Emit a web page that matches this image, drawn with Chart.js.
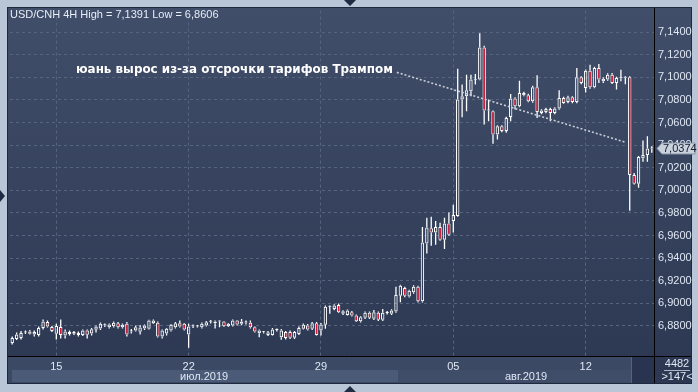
<!DOCTYPE html>
<html>
<head>
<meta charset="utf-8">
<script src="https://cdn.jsdelivr.net/npm/chart.js@4/dist/chart.umd.min.js"></script>
<style>
html, body { margin: 0; padding: 0; background: #b9c6d7; overflow: hidden; }
canvas { display: block; }
</style>
</head>
<body>
<canvas id="myChart" width="698" height="392"></canvas>
<script>
// USD/CNH 4H candles, 11.07.2019 08:00 .. 14.08.2019 12:00
const openV = [
  6.8649, 6.8684, 6.8693, 6.8740, 6.8750, 6.8723, 6.8719, 6.8781, 6.8834, 6.8790,
  6.8730, 6.8790, 6.8715, 6.8728, 6.8745, 6.8736, 6.8719, 6.8759, 6.8732, 6.8765,
  6.8776, 6.8810, 6.8788, 6.8797, 6.8823, 6.8788, 6.8818, 6.8750, 6.8759, 6.8747,
  6.8776, 6.8774, 6.8823, 6.8827, 6.8706, 6.8732, 6.8759, 6.8788, 6.8823, 6.8818,
  6.8723, 6.8794, 6.8797, 6.8788, 6.8803, 6.8836, 6.8823, 6.8838, 6.8838, 6.8797,
  6.8803, 6.8847, 6.8818, 6.8831, 6.8827, 6.8788, 6.8735, 6.8743, 6.8720, 6.8720,
  6.8765, 6.8700, 6.8745, 6.8745, 6.8695, 6.8728, 6.8774, 6.8803, 6.8774, 6.8823,
  6.8759, 6.8809, 6.8970, 6.8950, 6.8985, 6.8906, 6.8897, 6.8920, 6.8891, 6.8841,
  6.8871, 6.8915, 6.8862, 6.8915, 6.8853, 6.8913, 6.8906, 6.8926, 6.9067, 6.9135,
  6.9059, 6.9097, 6.9147, 6.9017, 6.9529, 6.9665, 6.9626, 6.9676, 6.9562, 6.9705,
  6.9729, 6.9773, 7.0803, 7.0833, 7.0877, 7.0978, 7.0980, 7.1265, 7.0706, 7.0700,
  7.0494, 7.0568, 7.0524, 7.0650, 7.0812, 7.0744, 7.0841, 7.0841, 7.0788, 7.0912,
  7.0685, 7.0694, 7.0720, 7.0685, 7.0724, 7.0818, 7.0782, 7.0824, 7.0782, 7.1000,
  7.0906, 7.1059, 7.0912, 7.1082, 7.0965, 7.0980, 7.1024, 7.0950, 7.0991, 7.0997,
  7.1000, 7.0135, 7.0058, 7.0283, 7.0312, 7.0370
];
const highV = [
  6.8706, 6.8741, 6.8754, 6.8759, 6.8763, 6.8759, 6.8794, 6.8856, 6.8847, 6.8798,
  6.8818, 6.8856, 6.8767, 6.8759, 6.8754, 6.8750, 6.8767, 6.8767, 6.8781, 6.8803,
  6.8829, 6.8821, 6.8821, 6.8838, 6.8834, 6.8821, 6.8834, 6.8772, 6.8803, 6.8807,
  6.8812, 6.8853, 6.8856, 6.8838, 6.8767, 6.8781, 6.8816, 6.8834, 6.8847, 6.8825,
  6.8818, 6.8812, 6.8807, 6.8829, 6.8843, 6.8851, 6.8847, 6.8847, 6.8843, 6.8825,
  6.8856, 6.8851, 6.8860, 6.8847, 6.8847, 6.8794, 6.8767, 6.8754, 6.8754, 6.8781,
  6.8776, 6.8772, 6.8754, 6.8759, 6.8754, 6.8794, 6.8821, 6.8816, 6.8834, 6.8834,
  6.8825, 6.8979, 6.8979, 6.8992, 6.8997, 6.8939, 6.8944, 6.8931, 6.8900, 6.8886,
  6.8926, 6.8926, 6.8941, 6.8926, 6.8950, 6.8931, 6.8948, 6.9147, 6.9164, 6.9147,
  6.9120, 6.9160, 6.9156, 6.9676, 6.9758, 6.9765, 6.9729, 6.9712, 6.9758, 6.9803,
  6.9871, 7.1077, 7.0936, 7.1024, 7.1024, 7.1029, 7.1391, 7.1280, 7.0803, 7.0706,
  7.0577, 7.0577, 7.0652, 7.0853, 7.0824, 7.0971, 7.0872, 7.0855, 7.0925, 7.1018,
  7.0718, 7.0731, 7.0731, 7.0735, 7.0886, 7.0828, 7.0837, 7.0833, 7.1082, 7.1009,
  7.1070, 7.1112, 7.1093, 7.1118, 7.1000, 7.1036, 7.1038, 7.1005, 7.1068, 7.1009,
  7.1009, 7.0153, 7.0303, 7.0442, 7.0479, 7.0391
];
const lowV = [
  6.8635, 6.8675, 6.8679, 6.8728, 6.8723, 6.8706, 6.8706, 6.8767, 6.8785, 6.8745,
  6.8679, 6.8688, 6.8688, 6.8715, 6.8719, 6.8706, 6.8710, 6.8688, 6.8715, 6.8741,
  6.8763, 6.8790, 6.8776, 6.8785, 6.8776, 6.8776, 6.8706, 6.8732, 6.8750, 6.8723,
  6.8763, 6.8767, 6.8816, 6.8697, 6.8688, 6.8715, 6.8750, 6.8776, 6.8785, 6.8759,
  6.8606, 6.8781, 6.8785, 6.8776, 6.8794, 6.8821, 6.8776, 6.8788, 6.8790, 6.8790,
  6.8794, 6.8803, 6.8806, 6.8812, 6.8776, 6.8741, 6.8700, 6.8732, 6.8710, 6.8715,
  6.8750, 6.8677, 6.8679, 6.8684, 6.8684, 6.8719, 6.8767, 6.8759, 6.8763, 6.8715,
  6.8715, 6.8774, 6.8908, 6.8939, 6.8913, 6.8895, 6.8891, 6.8882, 6.8833, 6.8829,
  6.8860, 6.8860, 6.8851, 6.8842, 6.8842, 6.8900, 6.8895, 6.8917, 6.9008, 6.9054,
  6.9050, 6.9085, 6.9006, 6.9006, 6.9441, 6.9509, 6.9517, 6.9553, 6.9480, 6.9597,
  6.9626, 6.9765, 7.0647, 7.0700, 7.0833, 7.0936, 7.0974, 7.0583, 7.0612, 7.0412,
  7.0450, 7.0515, 7.0510, 7.0612, 7.0715, 7.0735, 7.0833, 7.0780, 7.0775, 7.0641,
  7.0674, 7.0682, 7.0612, 7.0674, 7.0713, 7.0766, 7.0771, 7.0771, 7.0771, 7.0938,
  7.0865, 7.0900, 7.0903, 7.0950, 7.0950, 7.0969, 7.0941, 7.0892, 7.0965, 7.0938,
  6.9818, 7.0051, 7.0023, 7.0253, 7.0253, 7.0332
];
const closeV = [
  6.8693, 6.8723, 6.8737, 6.8742, 6.8730, 6.8745, 6.8781, 6.8838, 6.8794, 6.8754,
  6.8798, 6.8719, 6.8750, 6.8745, 6.8730, 6.8719, 6.8759, 6.8721, 6.8770, 6.8794,
  6.8818, 6.8806, 6.8812, 6.8827, 6.8788, 6.8809, 6.8723, 6.8755, 6.8788, 6.8785,
  6.8803, 6.8847, 6.8847, 6.8706, 6.8759, 6.8774, 6.8809, 6.8823, 6.8794, 6.8767,
  6.8794, 6.8797, 6.8795, 6.8818, 6.8832, 6.8840, 6.8838, 6.8840, 6.8797, 6.8818,
  6.8847, 6.8812, 6.8838, 6.8829, 6.8788, 6.8750, 6.8759, 6.8745, 6.8743, 6.8767,
  6.8763, 6.8759, 6.8692, 6.8695, 6.8745, 6.8781, 6.8809, 6.8767, 6.8823, 6.8720,
  6.8812, 6.8970, 6.8968, 6.8979, 6.8920, 6.8929, 6.8935, 6.8891, 6.8841, 6.8876,
  6.8915, 6.8871, 6.8920, 6.8853, 6.8915, 6.8915, 6.8935, 6.9074, 6.9156, 6.9067,
  6.9111, 6.9147, 6.9017, 6.9538, 6.9670, 6.9626, 6.9676, 6.9562, 6.9705, 6.9606,
  6.9782, 7.0803, 7.0833, 7.0886, 7.0980, 7.0982, 7.1265, 7.0706, 7.0708, 7.0494,
  7.0568, 7.0524, 7.0641, 7.0812, 7.0744, 7.0862, 7.0862, 7.0788, 7.0912, 7.0694,
  7.0706, 7.0720, 7.0685, 7.0724, 7.0818, 7.0773, 7.0824, 7.0782, 7.1000, 7.0950,
  7.1059, 7.0912, 7.1082, 7.0980, 7.0988, 7.1024, 7.0950, 7.0994, 7.0994, 7.1000,
  7.0135, 7.0058, 7.0294, 7.0312, 7.0371, 7.0374
];

const yTicks = [6.88, 6.90, 6.92, 6.94, 6.96, 6.98, 7.00, 7.02, 7.04, 7.06, 7.08, 7.10, 7.12, 7.14];
const dayLabels = ['15', '22', '29', '05', '12'];
const dayIndex = [10, 40, 70, 100, 130];
const months = ['июл.2019', 'авг.2019'];
const monthStart = [0, 88];
const noteText = 'юань вырос из-за отсрочки тарифов Трампом';
const trendX = [87.2, 138.9];
const trendY = [7.1044, 7.0427];

const NARROW = '"Liberation Sans Narrow", "Arial Narrow", "Liberation Sans", Arial, sans-serif';
const TXT = '#dfe7f4';

const labels = openV.map((_, i) => i);
const bodies = openV.map((o, i) => [o, closeV[i]]);
const wickUp = openV.map((o, i) => [Math.max(o, closeV[i]), highV[i]]);
const wickDn = openV.map((o, i) => [lowV[i], Math.min(o, closeV[i])]);
const bodyFill = openV.map((o, i) => closeV[i] >= o ? 'rgba(0,0,0,0)' : '#dc1533');
const fmt = v => v.toFixed(4).replace('.', ',');

const frame = {
  id: 'frame',
  beforeDraw(chart) {
    const {ctx, chartArea: a, scales: {x}} = chart;
    ctx.save();
    ctx.fillStyle = '#b9c6d7';
    ctx.fillRect(0, 0, 698, 392);
    const g = ctx.createLinearGradient(0, 8, 0, 383);
    g.addColorStop(0, '#414e69');
    g.addColorStop(1, '#2c3852');
    ctx.fillStyle = g;
    ctx.fillRect(8, 8, 683, 375);
    ctx.strokeStyle = '#1f293d';
    ctx.lineWidth = 1;
    ctx.strokeRect(7.5, 7.5, 684, 376);

    // bottom date panel
    const xb = x.getPixelForValue(monthStart[1] - 0.5);
    ctx.fillStyle = '#3b4964';
    ctx.fillRect(8, a.bottom + 1, a.right - 8, 26);
    ctx.fillStyle = '#4b5a76';
    ctx.fillRect(12, a.bottom + 14, xb - 12, 12);
    ctx.fillStyle = '#3f4d68';
    ctx.fillRect(xb, a.bottom + 14, a.right - xb, 12);
    ctx.fillStyle = '#283450';
    ctx.fillRect(632, a.bottom + 1, a.right - 632, 26);
    ctx.strokeStyle = '#56637c';
    ctx.beginPath();
    ctx.moveTo(631.5, a.bottom + 1);
    ctx.lineTo(631.5, 383);
    ctx.stroke();
    ctx.restore();
  },
  afterDatasetsDraw(chart) {
    const {ctx, scales: {x, y}} = chart;
    ctx.save();
    ctx.strokeStyle = '#c9ced8';
    ctx.lineWidth = 1.6;
    ctx.setLineDash([2, 2]);
    ctx.beginPath();
    ctx.moveTo(x.getPixelForValue(trendX[0]), y.getPixelForValue(trendY[0]));
    ctx.lineTo(x.getPixelForValue(trendX[1]), y.getPixelForValue(trendY[1]));
    ctx.stroke();
    ctx.restore();
  },
  afterDraw(chart) {
    const {ctx, chartArea: a, scales: {x, y}} = chart;
    ctx.save();
    // axis separators
    ctx.strokeStyle = '#000000';
    ctx.lineWidth = 1;
    ctx.beginPath();
    ctx.moveTo(a.right + 0.5, 8);
    ctx.lineTo(a.right + 0.5, 383);
    ctx.moveTo(8, a.bottom + 0.5);
    ctx.lineTo(691, a.bottom + 0.5);
    ctx.stroke();

    // title
    ctx.fillStyle = '#e6edf7';
    ctx.font = '11px ' + NARROW;
    ctx.textBaseline = 'alphabetic';
    ctx.textAlign = 'left';
    ctx.fillText('USD/CNH 4H High = ' + fmt(Math.max(...highV)) + ' Low = ' + fmt(Math.min(...lowV)), 10, 18);

    // note
    ctx.fillStyle = '#ffffff';
    ctx.font = 'bold 12px "DejaVu Sans", sans-serif';
    const w = ctx.measureText(noteText).width;
    ctx.save();
    ctx.translate(76, 73);
    ctx.scale(317 / w, 1);
    ctx.fillText(noteText, 0, 0);
    ctx.restore();

    // month labels
    ctx.fillStyle = TXT;
    ctx.font = '11px ' + NARROW;
    ctx.textAlign = 'center';
    ctx.textBaseline = 'middle';
    const xb = x.getPixelForValue(monthStart[1] - 0.5);
    ctx.fillText(months[0], (a.left + xb) / 2, 377);
    ctx.fillText(months[1], (xb + a.right) / 2, 377);

    // counter box
    ctx.fillText('4482', 677, 364);
    ctx.fillText('>147<', 677, 377);
    ctx.strokeStyle = '#aab6c8';
    ctx.beginPath();
    ctx.moveTo(664, 370.5);
    ctx.lineTo(690, 370.5);
    ctx.stroke();

    // last price tag
    const last = closeV[closeV.length - 1];
    const py = Math.round(y.getPixelForValue(last)) + 0.5;
    ctx.beginPath();
    ctx.moveTo(657, py);
    ctx.lineTo(662, py - 5.5);
    ctx.lineTo(695, py - 5.5);
    ctx.lineTo(695, py + 5.5);
    ctx.lineTo(662, py + 5.5);
    ctx.closePath();
    ctx.fillStyle = '#c9d1dc';
    ctx.fill();
    ctx.strokeStyle = '#8793a6';
    ctx.stroke();
    ctx.fillStyle = '#141c30';
    ctx.textAlign = 'left';
    ctx.fillText(fmt(last), 663, py);

    // frame arrows
    ctx.fillStyle = '#1f2b42';
    ctx.beginPath();
    ctx.moveTo(344, 0); ctx.lineTo(356, 0); ctx.lineTo(350, 6); ctx.closePath();
    ctx.moveTo(344, 392); ctx.lineTo(356, 392); ctx.lineTo(350, 386); ctx.closePath();
    ctx.moveTo(0, 190); ctx.lineTo(0, 202); ctx.lineTo(5, 196); ctx.closePath();
    ctx.fill();
    ctx.restore();
  }
};

new Chart('myChart', {
  type: 'bar',
  data: {
    labels: labels,
    datasets: [
      {data: wickDn, backgroundColor: '#ffffff', barThickness: 1.3, grouped: false, inflateAmount: 0, order: 2},
      {data: wickUp, backgroundColor: '#ffffff', barThickness: 1.3, grouped: false, inflateAmount: 0, order: 2},
      {data: bodies, backgroundColor: bodyFill, borderColor: '#ffffff', borderWidth: 1,
       borderSkipped: false, barThickness: 3.4, minBarLength: 1, grouped: false, inflateAmount: 0, order: 1}
    ]
  },
  options: {
    responsive: false,
    animation: false,
    layout: {padding: {left: 10, top: 9, right: 0, bottom: 0}},
    plugins: {legend: {display: false}, tooltip: {enabled: false}},
    scales: {
      x: {
        type: 'category',
        offset: true,
        afterBuildTicks: s => { s.ticks = dayIndex.map(v => ({value: v})); },
        afterFit: s => { s.height = 36; },
        ticks: {autoSkip: false, maxRotation: 0, color: TXT, padding: 4,
                font: {family: NARROW, size: 11},
                callback: v => dayLabels[dayIndex.indexOf(v)]},
        grid: {color: '#56647f', offset: false, drawTicks: false},
        border: {display: false, dash: [3, 3]}
      },
      y: {
        position: 'right',
        min: 6.8533,
        max: 7.1591,
        afterBuildTicks: s => { s.ticks = yTicks.map(v => ({value: v})); },
        afterFit: s => { s.width = 44; },
        ticks: {color: TXT, padding: 4, font: {family: NARROW, size: 11}, callback: v => fmt(v)},
        grid: {color: '#56647f', drawTicks: false},
        border: {display: false, dash: [3, 3]}
      }
    }
  },
  plugins: [frame]
});
</script>
</body>
</html>
